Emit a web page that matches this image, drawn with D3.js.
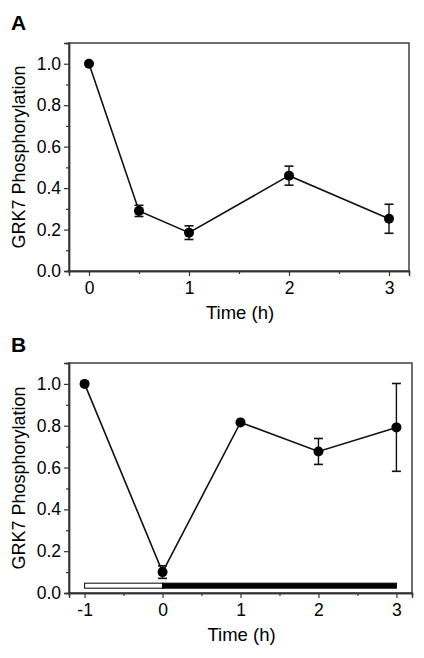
<!DOCTYPE html>
<html>
<head>
<meta charset="utf-8">
<script src="https://cdn.jsdelivr.net/npm/d3@7"></script>
<style>
  html, body { margin: 0; padding: 0; background: #fff; }
  svg { display: block; font-family: "Liberation Sans", Arial, sans-serif; }
</style>
</head>
<body>
<svg id="chart" width="424" height="658"></svg>
<script>
// ---- Data ----
const timesA = [0, 0.5, 1, 2, 3];
const valuesA = [1.0, 0.29, 0.185, 0.46, 0.252];
const errorsA = [0, 0.027, 0.033, 0.046, 0.07];

const timesB = [-1, 0, 1, 2, 3];
const valuesB = [1.0, 0.10, 0.816, 0.677, 0.792];
const errorsB = [0, 0.03, 0, 0.062, 0.21];

const yTicks = [0, 0.2, 0.4, 0.6, 0.8, 1.0];
const yMinorTicks = [0.1, 0.3, 0.5, 0.7, 0.9];
const xTicksA = [0, 1, 2, 3];
const xMinorA = [0.5, 1.5, 2.5];
const xTicksB = [-1, 0, 1, 2, 3];
const xMinorB = [-0.5, 0.5, 1.5, 2.5];

const lightPeriod = [-1, 0];   // open bar
const darkPeriod = [0, 3];     // filled bar
const barLevels = [0.023, 0.047];

const yLabel = "GRK7 Phosphorylation";
const xLabel = "Time (h)";

// ---- Drawing ----
const svg = d3.select("#chart");

function panel(opts) {
  const { letter, letterY, left, right, top, bottom, xDomain, times, values, errors,
          xTicks, xMinor, bars } = opts;
  const x = d3.scaleLinear().domain(xDomain).range([left, right]);
  const y = d3.scaleLinear().domain([0, 1.1]).range([bottom, top]);
  const g = svg.append("g");

  // panel letter
  g.append("text").attr("x", 11).attr("y", letterY)
    .attr("font-size", 21).attr("font-weight", "bold").text(letter);

  // frame
  g.append("rect").attr("x", left).attr("y", top)
    .attr("width", right - left).attr("height", bottom - top)
    .attr("fill", "none").attr("stroke", "#333").attr("stroke-width", 1.4);

  // y axis
  g.append("g").attr("transform", `translate(${left},0)`)
    .call(d3.axisLeft(y).tickValues(yTicks).tickFormat(d3.format(".1f"))
      .tickSize(5).tickPadding(3));
  g.append("g").attr("transform", `translate(${left},0)`)
    .call(d3.axisLeft(y).tickValues(yMinorTicks).tickFormat("").tickSize(3));

  // x axis
  const xAx = g.append("g").attr("transform", `translate(0,${bottom})`)
    .call(d3.axisBottom(x).tickValues(xTicks).tickFormat(d3.format("d"))
      .tickSize(5).tickPadding(6));
  g.append("g").attr("transform", `translate(0,${bottom})`)
    .call(d3.axisBottom(x).tickValues(xMinor).tickFormat("").tickSize(3));

  g.selectAll(".domain").attr("stroke", "#333").attr("stroke-width", 1.4);
  g.selectAll(".tick line").attr("stroke", "#333").attr("stroke-width", 1.2);
  g.selectAll(".tick text").attr("font-size", 17.5).attr("fill", "#000")
    .attr("font-family", "'Liberation Sans', Arial, sans-serif");
  xAx.selectAll(".tick text").text(d => d < 0 ? "-" + Math.abs(d) : d);

  // axis titles
  g.append("text").attr("x", (left + right) / 2 + 1).attr("y", bottom + 48)
    .attr("text-anchor", "middle").attr("font-size", 18.5).text(xLabel);
  g.append("text")
    .attr("transform", `translate(25,${(top + bottom) / 2}) rotate(-90)`)
    .attr("text-anchor", "middle").attr("font-size", 18).text(yLabel);

  // bars (light/dark)
  if (bars) {
    g.append("rect").attr("x", x(lightPeriod[0])).attr("y", y(barLevels[1]))
      .attr("width", x(lightPeriod[1]) - x(lightPeriod[0]))
      .attr("height", y(barLevels[0]) - y(barLevels[1]))
      .attr("fill", "#fff").attr("stroke", "#000").attr("stroke-width", 1);
    g.append("rect").attr("x", x(darkPeriod[0])).attr("y", y(barLevels[1]))
      .attr("width", x(darkPeriod[1]) - x(darkPeriod[0]))
      .attr("height", y(barLevels[0]) - y(barLevels[1]))
      .attr("fill", "#000").attr("stroke", "#000").attr("stroke-width", 1);
  }

  const pts = times.map((t, i) => ({ t, v: values[i], e: errors[i] }));

  // line
  g.append("path").datum(pts)
    .attr("d", d3.line().x(d => x(d.t)).y(d => y(d.v)))
    .attr("fill", "none").attr("stroke", "#111").attr("stroke-width", 1.6);

  // error bars
  const eb = g.selectAll(".eb").data(pts.filter(d => d.e > 0)).enter().append("g");
  eb.append("line").attr("x1", d => x(d.t)).attr("x2", d => x(d.t))
    .attr("y1", d => y(d.v + d.e)).attr("y2", d => y(d.v - d.e))
    .attr("stroke", "#111").attr("stroke-width", 1.4);
  [1, -1].forEach(s => {
    eb.append("line").attr("x1", d => x(d.t) - 4.5).attr("x2", d => x(d.t) + 4.5)
      .attr("y1", d => y(d.v + s * d.e)).attr("y2", d => y(d.v + s * d.e))
      .attr("stroke", "#111").attr("stroke-width", 1.6);
  });

  // points
  g.selectAll(".pt").data(pts).enter().append("circle")
    .attr("cx", d => x(d.t)).attr("cy", d => y(d.v)).attr("r", 5)
    .attr("fill", "#000");
}

panel({ letter: "A", letterY: 30, left: 69, right: 409, top: 43, bottom: 271,
  xDomain: [-0.2, 3.2], times: timesA, values: valuesA, errors: errorsA,
  xTicks: xTicksA, xMinor: xMinorA, bars: false });

panel({ letter: "B", letterY: 352, left: 69, right: 412, top: 363, bottom: 593,
  xDomain: [-1.2, 3.2], times: timesB, values: valuesB, errors: errorsB,
  xTicks: xTicksB, xMinor: xMinorB, bars: true });
</script>
</body>
</html>
